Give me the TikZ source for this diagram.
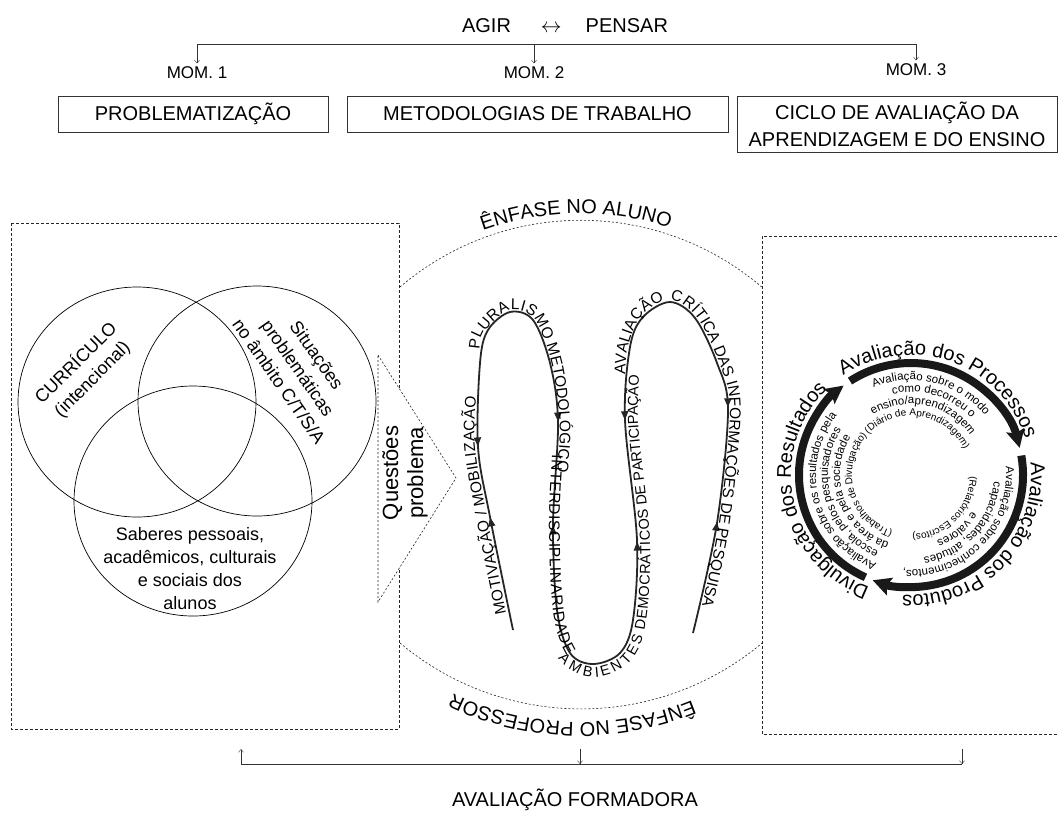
\documentclass[tikz,border=0pt]{standalone}
\usepackage{fontspec}
\setmainfont{Liberation Sans}
\usetikzlibrary{arrows.meta,decorations.text,decorations.markings}

\newcommand{\fTop}{\fontsize{20}{27}\selectfont}
\newcommand{\fMom}{\fontsize{17}{20}\selectfont}
\newcommand{\fVenn}{\fontsize{18}{23}\selectfont}
\newcommand{\fQ}{\fontsize{22}{25}\selectfont}
\newcommand{\fS}{\fontsize{15.5}{18}\selectfont}
\newcommand{\fSs}{\fontsize{14.5}{17}\selectfont}
\newcommand{\fRing}{\fontsize{20}{24}\selectfont}
\newcommand{\fIn}{\fontsize{11.5}{14}\selectfont}
\newcommand{\fPar}{\fontsize{10}{12}\selectfont}

% the S shaped path of the methodologies
\newcommand{\curvapath}{plot[smooth, tension=0.55] coordinates {(513,-630) (490,-517) (478,-447) (480,-363) (488,-330) (510,-312) (533,-320) (550,-363) (558,-422) (553,-525) (557,-610) (570,-653) (593,-664) (620,-653) (633,-620) (637,-540) (625,-420) (630,-347) (643,-317) (670,-302) (695,-318) (717,-363) (728,-410) (717,-523) (693,-633)}}

\begin{document}
\begin{tikzpicture}[x=1pt, y=1pt, >={Straight Barb[length=3pt,width=5pt]},
    box/.style={draw=black!80, line width=0.8pt, inner sep=0pt, font=\fTop},
    dbox/.style={draw=black!85, line width=0.8pt, dash pattern=on 3pt off 2pt},
    lens/.style={draw=black!85, line width=0.6pt, dash pattern=on 2pt off 2pt},
    txtarc/.style={decorate, decoration={text along path, text={#1}, text align=center}},
    slabel/.style n args={3}{decorate, decoration={text along path, text={#1}, text align={left indent=#2}, raise=#3}},
    sfit/.style n args={4}{decorate, decoration={text along path, text={#1}, text align={fit to path, left indent=#2, right indent=#3}, raise=#4}},
    stip/.tip={Triangle[length=9pt,width=7pt]},
    ring/.style={line width=8pt, black!90, -{Stealth[length=18pt,width=18pt,inset=3pt]}}]
    \useasboundingbox (0,0) rectangle (1059,-831);

    % agir - pensar
    \node[font=\fTop] (agir) at (565,-26) {AGIR\hspace{30pt}$\leftrightarrow$\hspace{24pt}PENSAR};
    \coordinate (t1) at (197,-44);
    \coordinate (t2) at (534,-44);
    \coordinate (t3) at (916,-44);
    \draw[black!80] (t1) -- (t3);
    \node[font=\fMom] (mom1) at (197,-73) {MOM. 1};
    \node[font=\fMom] (mom2) at (534,-73) {MOM. 2};
    \node[font=\fMom] (mom3) at (916,-70) {MOM. 3};
    \draw[->, black!80] (t1) -- (t1 |- mom1.north);
    \draw[->, black!80] (t2) -- (t2 |- mom2.north);
    \draw[->, black!80] (t3) -- (t3 |- mom3.north);

    \node[box, minimum width=270pt, minimum height=36pt] (prob) at (193,-114) {PROBLEMATIZAÇÃO};
    \node[box, minimum width=381pt, minimum height=36pt] (metod) at (537.5,-114) {METODOLOGIAS DE TRABALHO};
    \node[box, minimum width=320pt, minimum height=56pt, align=center] (ciclo) at (897,-124) {CICLO DE AVALIAÇÃO DA\\APRENDIZAGEM E DO ENSINO};

    % moment 1
    \draw[dbox] (11,-223) rectangle (399,-729);
    \draw[black, line width=0.7pt] (137,-402) ellipse [x radius=119, y radius=115];
    \draw[black, line width=0.7pt] (257,-401) ellipse [x radius=119, y radius=115];
    \draw[black, line width=0.7pt] (193,-501) ellipse [x radius=119, y radius=115];
    \node[font=\fVenn, align=center, rotate=45] (curr) at (84,-371) {CURRÍCULO\\(intencional)};
    \node[font=\fVenn, align=center, rotate=-55] (sit) at (298,-368) {Situações\\problemáticas\\no âmbito C/T/S/A};
    \node[font=\fVenn, align=center] (sab) at (190,-569) {Saberes pessoais,\\acadêmicos, culturais\\e sociais dos\\alunos};

    \draw[lens, fill=white] (378,-355) -- (456,-478) -- (378,-602) -- cycle;
    \node[font=\fQ, align=center, rotate=90] (quest) at (405,-473) {Questões\\problema};

    % moment 2
    \draw[lens] (400,-287) arc[start angle=130.5, end angle=49.5, radius=278.5];
    \draw[lens] (400,-643) arc[start angle=-130, end angle=-50, radius=281.7];
    \path[txtarc={|\fTop|ÊNFASE NO ALUNO}] (580,-497.5) ++(150.8:284) arc[start angle=150.8, end angle=30.8, radius=284];
    \path[txtarc={|\fTop|ÊNFASE NO PROFESSOR}] (580,-428.3) ++(-31.6:294) arc[start angle=-31.6, end angle=-151.6, radius=294];

    \draw[line width=1.8pt, black!85, postaction={decorate}, decoration={markings,
        mark=at position 115pt with {\arrow{stip}},
        mark=at position 187pt with {\arrowreversed{stip}},
        mark=at position 465pt with {\arrow{stip}},
        mark=at position 569pt with {\arrowreversed{stip}},
        mark=at position 870pt with {\arrow{stip}},
        mark=at position 992pt with {\arrowreversed{stip}},
        mark=at position 1257pt with {\arrow{stip}},
        mark=at position 1372pt with {\arrowreversed{stip}}}] \curvapath;
    \path[sfit={|\fS|MOTIVAÇÃO / MOBILIZAÇÃO}{18pt}{63pt}{3pt}] plot[smooth, tension=0.55] coordinates {(513,-630) (509,-612) (490,-517) (478,-447) (479,-397) (481,-363) (488,-335)};
    \path[slabel={|\fS|PLURALISMO METODOLÓGICO}{97pt}{1.5pt}] plot[smooth, tension=0.55] coordinates {(478,-447) (481,-350) (488,-330) (510,-312) (533,-320) (550,-363) (558,-422) (556,-470) (553,-525) (555,-570)};
    \path[sfit={|\fS|INTERDISCIPLINARIDADE}{33pt}{55pt}{-4pt}] plot[smooth, tension=0.55] coordinates {(558,-422) (556,-455) (553,-525) (557,-610) (570,-653) (593,-664) (620,-653)};
    \path[slabel={|\fSs|AMBIENTES DEMOCRÁTICOS DE PARTICIPAÇÃO}{41pt}{-13pt}] plot[smooth, tension=0.55] coordinates {(557,-610) (568,-650) (593,-664) (620,-653) (633,-620) (637,-540) (625,-420) (630,-347) (643,-317) (670,-302)};
    \path[slabel={|\fS|AVALIAÇÃO CRÍTICA DAS INFORMAÇÕES DE PESQUISA}{45pt}{2pt}] plot[smooth, tension=0.55] coordinates {(625,-420) (627,-375) (630,-347) (643,-317) (670,-302) (695,-318) (717,-363) (728,-410) (717,-523) (699,-610) (693,-633) (680,-690) (670,-760)};

    % moment 3
    \draw[dbox] (1062,-236) -- (762,-236) -- (762,-734) -- (1062,-734);
    \begin{scope}[shift={(911,-475)}]
        \draw[ring] (123:112) arc[start angle=123, end angle=14, radius=112];
        \draw[ring] (10:112) arc[start angle=10, end angle=-110, radius=112];
        \draw[ring] (246:112) arc[start angle=246, end angle=127, radius=112];

        \path[txtarc={|\fRing|Avaliação dos Processos}] (136:120) arc[start angle=136, end angle=6, radius=120];
        \path[txtarc={|\fRing|Avaliação dos Produtos}] (21:120) arc[start angle=21, end angle=-109, radius=120];
        \path[txtarc={|\fRing|Divulgação dos Resultados}] (257:120) arc[start angle=257, end angle=127, radius=120];

        \path[txtarc={|\fIn|Avaliação sobre o modo}] (151:95) arc[start angle=151, end angle=1, radius=95];
        \path[txtarc={|\fIn|como decorreu o}] (148:83) arc[start angle=148, end angle=-2, radius=83];
        \path[txtarc={|\fIn|ensino/aprendizagem}] (153:71) arc[start angle=153, end angle=3, radius=71];
        \path[txtarc={|\fPar|(Diário de Aprendizagem)}] (156:59) arc[start angle=156, end angle=6, radius=59];

        \path[txtarc={|\fIn|Avaliação sobre conhecimentos,}] (30:95) arc[start angle=30, end angle=-120, radius=95];
        \path[txtarc={|\fIn|capacidades, atitudes}] (32:83) arc[start angle=32, end angle=-118, radius=83];
        \path[txtarc={|\fIn|e valores}] (25:71) arc[start angle=25, end angle=-125, radius=71];
        \path[txtarc={|\fPar|(Relatórios Escritos)}] (30:59) arc[start angle=30, end angle=-120, radius=59];

        \path[txtarc={|\fIn|Avaliação sobre os resultados pela}] (270:95) arc[start angle=270, end angle=120, radius=95];
        \path[txtarc={|\fIn|escola, pelos pesquisadores}] (272:83) arc[start angle=272, end angle=122, radius=83];
        \path[txtarc={|\fIn|da área e pela sociedade}] (275:71) arc[start angle=275, end angle=125, radius=71];
        \path[txtarc={|\fPar|(Trabalhos de Divulgação)}] (270:59) arc[start angle=270, end angle=120, radius=59];
    \end{scope}

    % avaliacao formadora
    \coordinate (f1) at (241,-764);
    \coordinate (f2) at (580,-764);
    \coordinate (f3) at (962,-764);
    \draw[black!80] (f1) -- (f3);
    \draw[->, black!80] (f1) -- ++(0,15);
    \draw[<-, black!80] (f2) -- ++(0,15);
    \draw[<-, black!80] (f3) -- ++(0,15);
    \node[font=\fTop] (formadora) at (575,-800) {AVALIAÇÃO FORMADORA};
\end{tikzpicture}
\end{document}
